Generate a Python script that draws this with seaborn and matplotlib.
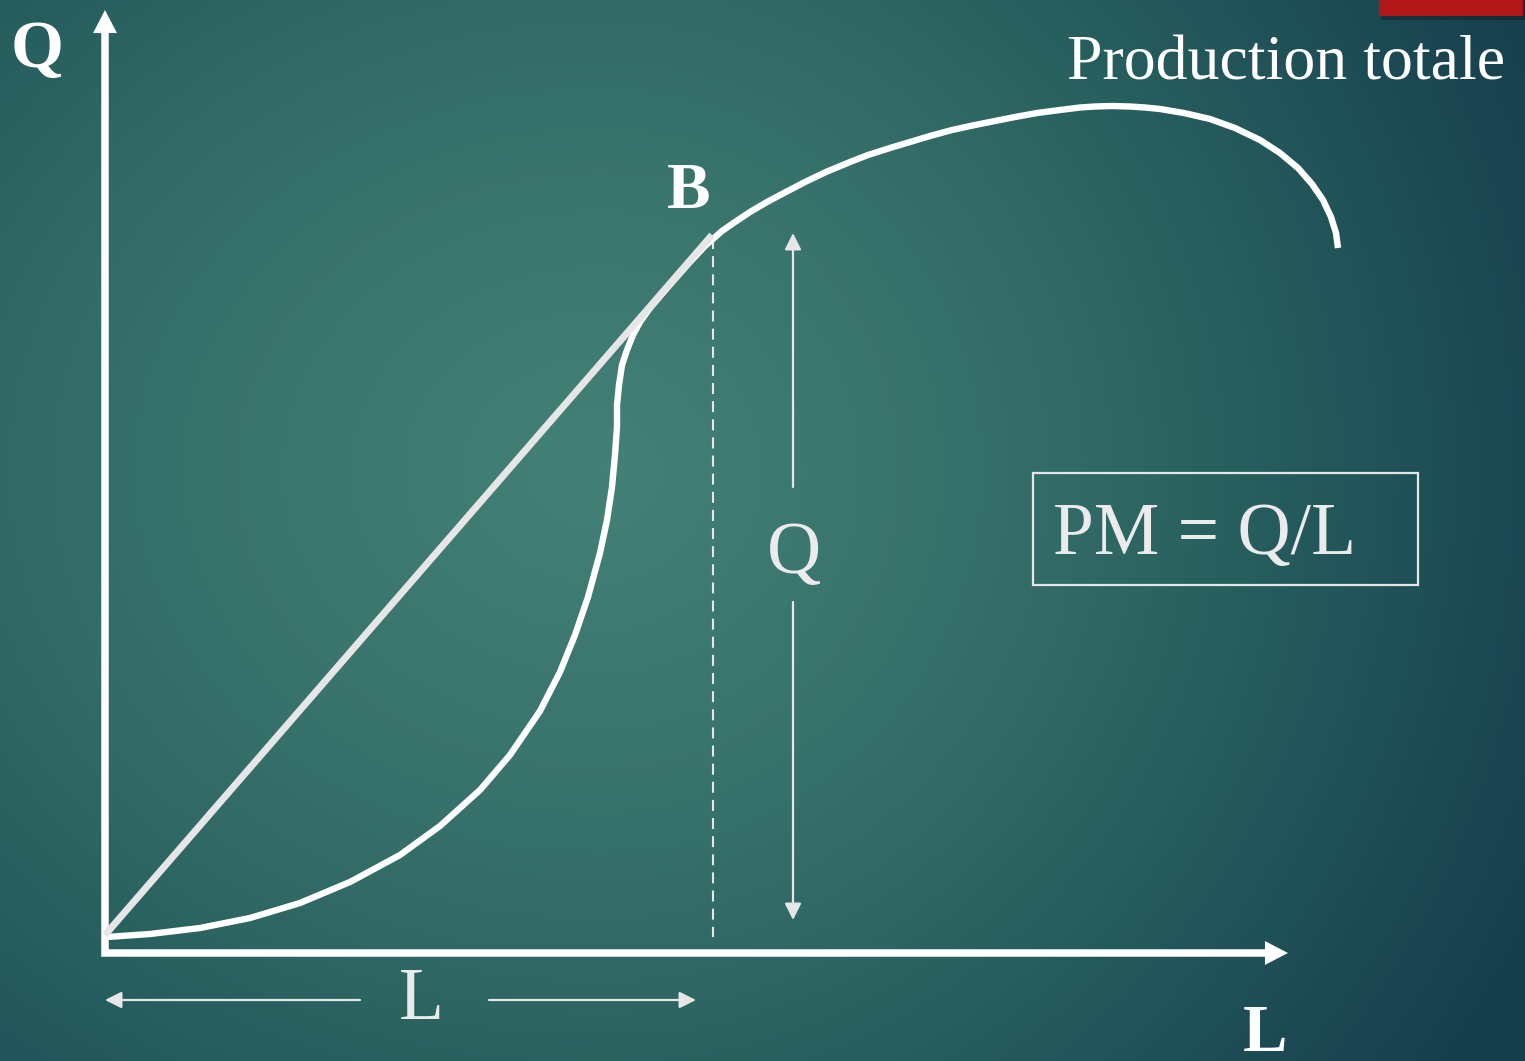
import numpy as np
import pandas as pd
import matplotlib
matplotlib.use("Agg")
import matplotlib.pyplot as plt
from matplotlib.patches import Rectangle
from matplotlib.colors import LinearSegmentedColormap
import seaborn as sns

# Total production curve: labour input L against output Q
labour = [0.2, 4.5, 9.5, 14.5, 19.5, 24.5, 29.5, 33.5, 37.5, 40.5, 43.5, 45.5,
          47.0, 48.3, 49.5, 50.2, 50.7, 51.0, 51.2, 51.2, 51.4, 51.7, 52.2, 52.8,
          53.5, 54.5, 55.7, 57.0, 58.5, 60.0, 60.8, 61.7, 63.0, 64.5, 66.2, 67.9,
          70.0, 72.1, 74.5, 76.3, 78.5, 80.5, 82.5, 84.7, 87.0, 89.0, 91.0, 93.2,
          95.5, 97.5, 99.0, 100.7, 102.5, 104.0, 105.5, 107.9, 110.5, 113.0,
          115.5, 117.5, 119.3, 120.7, 121.8, 122.6, 123.1, 123.3]
output = [1.6, 1.9, 2.5, 3.5, 5.0, 7.1, 9.8, 12.7, 16.3, 19.8, 24.2, 28.1,
          31.8, 35.6, 40.0, 43.3, 46.6, 49.8, 52.6, 54.8, 56.8, 58.8, 60.3, 61.8,
          63.1, 64.5, 65.9, 67.4, 69.1, 70.7, 71.4, 72.2, 73.1, 74.1, 75.1, 76.0,
          77.1, 78.1, 79.1, 79.8, 80.5, 81.1, 81.7, 82.3, 82.8, 83.2, 83.6, 84.0,
          84.3, 84.55, 84.65, 84.7, 84.65, 84.55, 84.4, 84.0, 83.4, 82.5,
          81.3, 80.0, 78.5, 76.9, 75.3, 73.6, 72.0, 70.5]

# Ray from the origin to point B (average product)
ray_L = [0.0, 60.7]
ray_Q = [1.8, 71.8]

# Point B on the curve
b_L, b_Q = 60.8, 71.5

# Extent of the drawing in (L, Q) units
X0, X1 = -10.5, 142.0
Y0, Y1 = -10.8, 95.3

sns.set_theme(style="white")
plt.rcParams["font.family"] = ["Liberation Serif", "DejaVu Serif"]

fig = plt.figure(figsize=(15.25, 10.61), dpi=100)
ax = fig.add_axes([0, 0, 1, 1])

# Teal radial background
W, H = 1525, 1061
yy, xx = np.mgrid[0:H, 0:W]
cx, cy = 600, 470
rx = np.where(xx < cx, 1100.0, 900.0)
t = np.sqrt(((xx - cx) / rx) ** 2 + ((yy - cy) / 900.0) ** 2)
bg_cmap = LinearSegmentedColormap.from_list(
    "bg", [(0.0, "#438176"), (0.35, "#37716b"), (0.6, "#28605f"),
           (0.8, "#1f4f57"), (1.0, "#173e4c")])
ax.imshow(bg_cmap(np.clip(t / 1.15, 0, 1)), extent=(X0, X1, Y0, Y1),
          origin="upper", aspect="auto", zorder=0, interpolation="bilinear")

# Axes with arrow heads
ax.plot([0, 0, 116.0], [92.0, 0, 0], color="white", lw=5.4,
        solid_joinstyle="miter", solid_capstyle="butt", zorder=3)
head = dict(arrowstyle="-|>,head_length=1.66,head_width=0.86",
            mutation_scale=10, lw=0, color="white", shrinkA=0, shrinkB=0)
ax.annotate("", xy=(0, 94.3), xytext=(0, 90.0), arrowprops=head, zorder=3)
ax.annotate("", xy=(118.3, 0), xytext=(114.0, 0), arrowprops=head, zorder=3)

# Production curve and ray
curve = pd.DataFrame({"L": labour, "Q": output})
sns.lineplot(data=curve, x="L", y="Q", sort=False, estimator=None,
             color="white", lw=4.6, solid_capstyle="butt",
             solid_joinstyle="round", ax=ax, zorder=4)
sns.lineplot(x=ray_L, y=ray_Q, sort=False, estimator=None, color="#e6e6e6",
             lw=5.0, solid_capstyle="butt", ax=ax, zorder=5)

# Dashed drop line from B
ax.plot([b_L, b_L], [b_Q, 1.6], color="#e6e6e6", lw=1.5,
        dashes=(5.3, 3.4), zorder=3)

# Dimension arrows for Q and L
thin = dict(arrowstyle="-|>,head_length=0.5,head_width=0.25",
            mutation_scale=20, lw=1.6, color="#e6e6e6", shrinkA=0, shrinkB=0)
ax.annotate("", xy=(68.8, 72.0), xytext=(68.8, 46.6), arrowprops=thin, zorder=3)
ax.annotate("", xy=(68.8, 3.3), xytext=(68.8, 35.1), arrowprops=thin, zorder=3)
ax.annotate("", xy=(0.0, -4.7), xytext=(25.5, -4.7), arrowprops=thin, zorder=3)
ax.annotate("", xy=(59.1, -4.7), xytext=(38.4, -4.7), arrowprops=thin, zorder=3)

# Labels
ax.text(140.0, 87.3, "Production totale", ha="right", va="baseline",
        fontsize=46, color="white", zorder=6)
ax.text(-6.8, 88.6, "Q", ha="center", va="baseline", fontsize=49,
        fontweight="bold", color="white", zorder=6)
ax.text(58.4, 74.5, "B", ha="center", va="baseline", fontsize=47,
        fontweight="bold", color="white", zorder=6)
ax.text(116.0, -9.8, "L", ha="center", va="baseline", fontsize=48,
        fontweight="bold", color="white", zorder=6)
ax.text(68.9, 38.0, "Q", ha="center", va="baseline", fontsize=54,
        color="#ebebeb", zorder=6)
ax.text(31.6, -6.6, "L", ha="center", va="baseline", fontsize=53,
        color="#ebebeb", zorder=6)

# Average product formula in a box
ax.add_patch(Rectangle((92.8, 36.8), 38.5, 11.2, fill=False,
                       ec="#e6e6e6", lw=1.6, zorder=6))
ax.text(94.8, 39.9, "PM = Q/L", ha="left", va="baseline", fontsize=53,
        color="#ebebeb", zorder=6)

# Red accent bar at the top edge
ax.add_patch(Rectangle((127.6, 93.3), 14.4, 2.0, color="black", alpha=0.25,
                       lw=0, zorder=6, clip_on=False))
ax.add_patch(Rectangle((127.4, 93.7), 14.4, 1.7, color="#b21616",
                       lw=0, zorder=7, clip_on=False))

ax.set_xlim(X0, X1)
ax.set_ylim(Y0, Y1)
ax.axis("off")

fig.savefig("out.png", dpi=100)
